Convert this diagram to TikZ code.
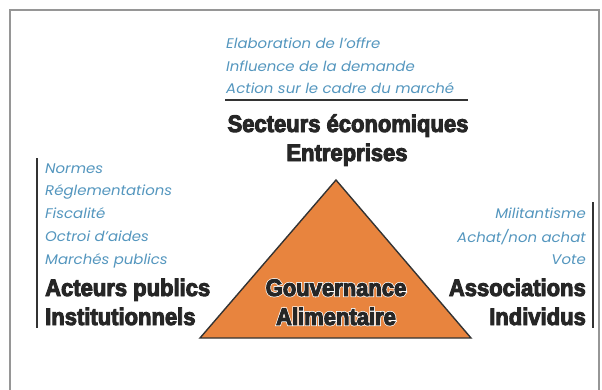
\documentclass[tikz,border=0pt]{standalone}
\usepackage{fontspec}
\setmainfont{Liberation Sans}
\newfontface\heavy{Liberation Sans Bold}[FakeStretch=0.92, FakeBold=4]
\newfontface\heavyglow{Liberation Sans Bold}[FakeStretch=0.92, FakeBold=10]
\newfontfamily\lite{Poppins}[FakeStretch=1.07]
\definecolor{itemblue}{RGB}{84,150,190}
\definecolor{triorange}{RGB}{232,132,62}
\definecolor{framegray}{RGB}{150,150,150}
\tikzset{
  item/.style={inner sep=0pt, text=itemblue, font=\lite\itshape\fontsize{14}{16}\selectfont},
  title/.style={inner sep=0pt, text=black!85, font=\heavy\fontsize{24}{28}\selectfont},
  glow/.style={inner sep=0pt, text=white, font=\heavyglow\fontsize{24}{28}\selectfont},
  bar/.style={draw=black!80, line width=1.6pt}
}
\begin{document}
\begin{tikzpicture}[x=1bp,y=-1bp]
\useasboundingbox (0,0) rectangle (602,389);
\draw[framegray, line width=1.2pt] (10,400) coordinate (fbl) -- (10,10) coordinate (ftl) -- (599,10) coordinate (ftr) -- (599,400) coordinate (fbr);
% top block
\node[item, anchor=base west] (e1) at (226,48) {Elaboration de l’offre};
\node[item, anchor=base west] (e2) at (226,71) {Influence de la demande};
\node[item, anchor=base west] (e3) at (226,93) {Action sur le cadre du marché};
\coordinate (hl) at (225,100); \coordinate (hr) at (468,100);
\draw[bar] (hl) -- (hr);
\node[title, anchor=base] (sec) at (348,132) {Secteurs économiques};
\node[title, anchor=base] (ent) at (347,161) {Entreprises};
% triangle
\coordinate (apex) at (336,180); \coordinate (bl) at (200,338); \coordinate (br) at (471,338);
\draw[fill=triorange, draw=black!80, line width=1.4pt, line join=miter] (apex) -- (bl) -- (br) -- cycle;
\node[glow, anchor=base] (gg) at (336,296) {Gouvernance};
\node[glow, anchor=base] (ag) at (336,325) {Alimentaire};
\node[title, anchor=base] (gouv) at (336,296) {Gouvernance};
\node[title, anchor=base] (alim) at (336,325) {Alimentaire};
% left block
\coordinate (lt) at (37,158); \coordinate (lb) at (37,328);
\draw[bar] (lt) -- (lb);
\node[item, anchor=base west] (l1) at (45,173) {Normes};
\node[item, anchor=base west] (l2) at (45,195) {Réglementations};
\node[item, anchor=base west] (l3) at (45,218) {Fiscalité};
\node[item, anchor=base west] (l4) at (45,241) {Octroi d’aides};
\node[item, anchor=base west] (l5) at (45,264) {Marchés publics};
\node[title, anchor=base west] (act) at (45,296) {Acteurs publics};
\node[title, anchor=base west] (ins) at (45,325) {Institutionnels};
% right block
\coordinate (rt) at (593,202); \coordinate (rb) at (593,328);
\draw[bar] (rt) -- (rb);
\node[item, anchor=base east] (r1) at (586,218) {Militantisme};
\node[item, anchor=base east] (r2) at (586,242) {Achat/non achat};
\node[item, anchor=base east] (r3) at (586,264) {Vote};
\node[title, anchor=base east] (ass) at (586,296) {Associations};
\node[title, anchor=base east] (ind) at (586,325) {Individus};
\end{tikzpicture}
\end{document}
